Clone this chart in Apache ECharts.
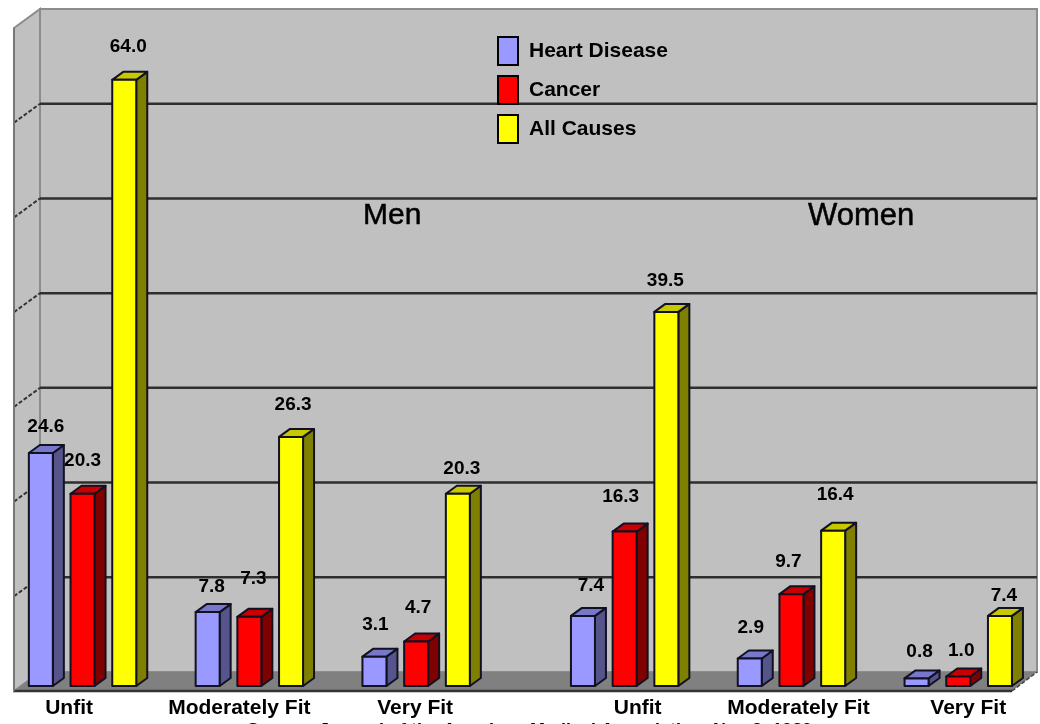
<!DOCTYPE html>
<html><head><meta charset="utf-8">
<style>html,body{margin:0;padding:0;background:#fff}#c{width:1040px;height:724px}</style>
<script src="https://cdn.jsdelivr.net/npm/echarts@6/dist/echarts.min.js"></script>
</head><body><div id="c"></div>
<script>
// ---- data ----
var groupLabels = ['Unfit','Moderately Fit','Very Fit','Unfit','Moderately Fit','Very Fit'];
var panelTitles = ['Men','Women'];
var heartDisease = [24.6, 7.8, 3.1, 7.4, 2.9, 0.8];
var cancer       = [20.3, 7.3, 4.7, 16.3, 9.7, 1.0];
var allCauses    = [64.0, 26.3, 20.3, 39.5, 16.4, 7.4];
var yTicks = [10,20,30,40,50,60,70];
var caption = 'Source: Journal of the American Medical Association, Nov 3, 1989';

// ---- layout ----
var groupStartSlots = [0,4,8,13,17,21];
var slotCount = 24;
var labelShift = [-13.5,-10,-1,13,7,10];
// label placement per bar, relative to the top of the bar's front face: [dx, lift]
var lift = {
  heart: [[5,26],[4,25],[1,32],[8,30],[1,31],[3,27]],
  cancer: [[0,33],[4,38],[2,34],[-4,35],[-3,32],[3,26]],
  all: [[4,33],[2,32],[4,25],[-1,31],[2,36],[4,20]]
};
var BAR_W = 24, BAR_DX = 11, BAR_DY = 8;
var WALL_DX = 26, FLOOR_FRONT = 5, FLOOR_BACK = -14, LEFT = 14, RIGHT = 1012;
var FONT = '"Liberation Sans", Arial, sans-serif';

var slotLabels = [];
for (var s = 0; s < slotCount; s++) slotLabels.push('');
groupLabels.forEach(function(l,i){ slotLabels[groupStartSlots[i]+1] = l; });

var rich = {};
labelShift.forEach(function(o,i){
  rich['s'+i] = {fontFamily:FONT,fontWeight:'bold',fontSize:21,color:'#000',
    padding: o>0 ? [0,0,0,2*o] : [0,-2*o,0,0]};
});

function slot(g, k){ return groupStartSlots[g] + k; }

function barSeries(name, values, offset, liftArr, face, side, top){
  return {
    type:'custom', name:name, coordinateSystem:'cartesian2d', z:5,
    itemStyle:{color:face,borderColor:'#000',borderWidth:2},
    encode:{x:0,y:1},
    data: values.map(function(v,g){ return [slot(g,offset), v, g]; }),
    renderItem:function(params, api){
      var p = api.coord([api.value(0), api.value(1)]);
      var b = api.coord([api.value(0), 0]);
      var g = api.value(2);
      var x0 = p[0]-BAR_W/2, x1 = p[0]+BAR_W/2, yt = p[1], yb = b[1];
      function poly(pts, fill){
        return {type:'polygon',shape:{points:pts},style:{fill:fill,stroke:'#111122',lineWidth:2,lineJoin:'round'}};
      }
      var L = liftArr[g];
      return {type:'group',children:[
        poly([[x1,yb],[x1+BAR_DX,yb-BAR_DY],[x1+BAR_DX,yt-BAR_DY],[x1,yt]], side),
        poly([[x0,yt],[x0+BAR_DX,yt-BAR_DY],[x1+BAR_DX,yt-BAR_DY],[x1,yt]], top),
        poly([[x0,yt],[x1,yt],[x1,yb],[x0,yb]], face),
        {type:'text',style:{text:api.value(1).toFixed(1),x:p[0]+L[0],y:yt-L[1],
          align:'center',verticalAlign:'middle',fill:'#000',
          font:'bold 19px '+FONT}}
      ]};
    }
  };
}

var backdrop = {
  type:'custom', name:'backdrop', coordinateSystem:'cartesian2d', z:1, silent:true,
  encode:{x:0,y:1}, data:[[0,0]],
  renderItem:function(params, api){
    var y0 = api.coord([0,0])[1], yTop = api.coord([0,70])[1];
    var kids = [];
    var bl = LEFT+WALL_DX, br = RIGHT+WALL_DX-1;
    var wTop = yTop+FLOOR_BACK, wBot = y0+FLOOR_BACK, fBot = y0+FLOOR_FRONT;
    var ftop = wTop+ (FLOOR_FRONT-FLOOR_BACK);
    kids.push({type:'polygon',shape:{points:[[bl,wTop],[br,wTop],[br,wBot],[bl,wBot]]},
      style:{fill:'#c0c0c0',stroke:'#8c8c8c',lineWidth:2}});
    kids.push({type:'polygon',shape:{points:[[LEFT,ftop],[bl,wTop],[bl,wBot],[LEFT,fBot]]},
      style:{fill:'#c0c0c0',stroke:'#8c8c8c',lineWidth:2}});
    kids.push({type:'polygon',shape:{points:[[LEFT,fBot],[bl,wBot],[br,wBot],[RIGHT,fBot]]},
      style:{fill:'#808080'}});
    yTicks.forEach(function(t){
      if (t>=70) return;
      var y = api.coord([0,t])[1];
      kids.push({type:'line',shape:{x1:bl,y1:y+FLOOR_BACK,x2:br,y2:y+FLOOR_BACK},
        style:{stroke:'#2e2e2e',lineWidth:2.5}});
      kids.push({type:'line',shape:{x1:LEFT,y1:y+FLOOR_FRONT,x2:bl,y2:y+FLOOR_BACK},
        style:{stroke:'#333',lineWidth:2,lineDash:[4,2]}});
    });
    kids.push({type:'line',shape:{x1:LEFT,y1:fBot,x2:RIGHT,y2:fBot},style:{stroke:'#333',lineWidth:2.5}});
    kids.push({type:'line',shape:{x1:RIGHT,y1:fBot,x2:br,y2:wBot},style:{stroke:'#444',lineWidth:1.5,lineDash:[4,2]}});
    kids.push({type:'line',shape:{x1:LEFT,y1:fBot,x2:LEFT,y2:ftop},style:{stroke:'#777',lineWidth:2}});
    return {type:'group',children:kids};
  }
};

var chart = echarts.init(document.getElementById('c'));
chart.setOption({
  animation:false,
  backgroundColor:'#fff',
  grid:{left:20,width:1000.8,top:23,height:663,containLabel:false},
  xAxis:{type:'category',data:slotLabels,axisTick:{show:false},axisLine:{show:false},splitLine:{show:false},
    axisLabel:{show:true,interval:0,margin:12,hideOverlap:false,
      formatter:function(v,i){
        if(!v) return '';
        var g = groupStartSlots.indexOf(i-1);
        return '{s'+g+'|'+v+'}';
      },rich:rich}},
  yAxis:{type:'value',min:0,max:70,interval:10,axisLabel:{show:false},axisTick:{show:false},axisLine:{show:false},splitLine:{show:false}},
  legend:{left:497,top:36,padding:0,orient:'vertical',icon:'rect',itemWidth:20,itemHeight:28,itemGap:9,
    data:['Heart Disease','Cancer','All Causes'],
    textStyle:{fontFamily:FONT,fontWeight:'bold',fontSize:21,color:'#000',padding:[0,0,0,6]}},
  title:[
    {text:panelTitles[0],left:363,top:201,padding:0,textStyle:{fontFamily:FONT,fontWeight:'normal',fontSize:30,color:'#000',textBorderColor:'#000',textBorderWidth:0.5}},
    {text:panelTitles[1],left:808,top:201,padding:0,textStyle:{fontFamily:FONT,fontWeight:'normal',fontSize:31,color:'#000',textBorderColor:'#000',textBorderWidth:0.5}},
    {text:caption,left:247,top:722,padding:0,textStyle:{fontFamily:FONT,fontWeight:'bold',fontSize:18,color:'#000'}}
  ],
  series:[
    backdrop,
    barSeries('Heart Disease',heartDisease,0,lift.heart,'#9999ff','#55558c','#7777cc'),
    barSeries('Cancer',cancer,1,lift.cancer,'#ff0000','#800000','#c80000'),
    barSeries('All Causes',allCauses,2,lift.all,'#ffff00','#808000','#c8c800')
  ]
});
</script></body></html>
